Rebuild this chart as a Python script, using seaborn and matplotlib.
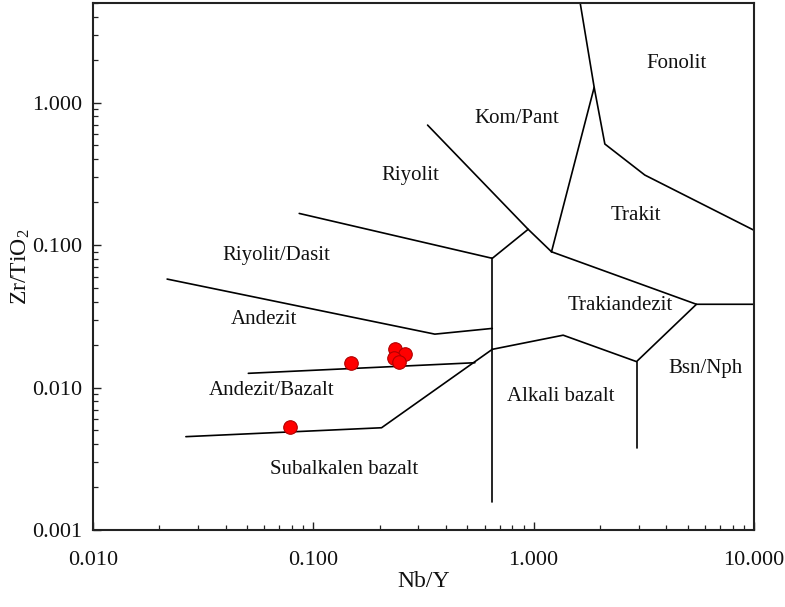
import matplotlib
import matplotlib.pyplot as plt
import matplotlib.ticker as mticker
import seaborn as sns

matplotlib.use("Agg")

# sample points (Nb/Y, Zr/TiO2)
sample_nb_y = [0.0784, 0.149, 0.236, 0.2605, 0.232, 0.2445]
sample_zr_ti = [0.00531, 0.01479, 0.01878, 0.01718, 0.01603, 0.0152]

# field boundaries
rhyodacite_andesite_x = [0.0217, 0.356, 0.649]
rhyodacite_andesite_y = [0.0577, 0.0237, 0.0260]

rhyolite_rhyodacite_x = [0.0863, 0.649, 0.944]
rhyolite_rhyodacite_y = [0.1667, 0.0807, 0.129]

rhyolite_comendite_x = [0.330, 0.944, 1.205]
rhyolite_comendite_y = [0.695, 0.129, 0.0897]

comendite_trachyte_x = [1.205, 1.882]
comendite_trachyte_y = [0.0897, 1.279]

phonolite_x = [1.626, 1.882, 2.104, 3.195, 10.0]
phonolite_y = [5.0, 1.279, 0.512, 0.310, 0.127]

trachyte_trachyandesite_x = [1.205, 5.48, 10.0]
trachyte_trachyandesite_y = [0.0897, 0.0384, 0.0384]

central_vertical_x = [0.649, 0.649]
central_vertical_y = [0.0807, 0.00157]

alkali_top_x = [0.649, 1.361, 2.93, 5.48]
alkali_top_y = [0.01854, 0.0233, 0.0152, 0.0384]

alkali_basanite_x = [2.93, 2.93]
alkali_basanite_y = [0.0152, 0.00374]

andesite_basalt_x = [0.0507, 0.541]
andesite_basalt_y = [0.01258, 0.01493]

subalkaline_top_x = [0.0264, 0.204, 0.649]
subalkaline_top_y = [0.00452, 0.00522, 0.01854]

field_names = ["Fonolit", "Kom/Pant", "Riyolit", "Trakit", "Riyolit/Dasit",
               "Andezit", "Trakiandezit", "Bsn/Nph", "Alkali bazalt",
               "Andezit/Bazalt", "Subalkalen bazalt"]
field_x = [4.46, 0.84, 0.276, 2.91, 0.0676, 0.0597, 2.46, 6.03, 1.33, 0.0647, 0.1377]
field_y = [1.89, 0.778, 0.31, 0.16, 0.0851, 0.0298, 0.0375, 0.0135, 0.00862, 0.0095, 0.00264]

x_ticks = [0.01, 0.1, 1, 10]
y_ticks = [0.001, 0.01, 0.1, 1]


def main() -> None:
    sns.set_style("white")
    plt.rcParams["font.family"] = ["Liberation Serif", "DejaVu Serif"]
    plt.rcParams["mathtext.default"] = "regular"

    fig, ax = plt.subplots(figsize=(7.85, 6.07), dpi=100)
    fig.subplots_adjust(left=93 / 785, right=754 / 785, bottom=77 / 607, top=604 / 607)
    ax.set_xscale("log")
    ax.set_yscale("log")

    boundaries = [
        (rhyodacite_andesite_x, rhyodacite_andesite_y),
        (rhyolite_rhyodacite_x, rhyolite_rhyodacite_y),
        (rhyolite_comendite_x, rhyolite_comendite_y),
        (comendite_trachyte_x, comendite_trachyte_y),
        (phonolite_x, phonolite_y),
        (trachyte_trachyandesite_x, trachyte_trachyandesite_y),
        (central_vertical_x, central_vertical_y),
        (alkali_top_x, alkali_top_y),
        (alkali_basanite_x, alkali_basanite_y),
        (andesite_basalt_x, andesite_basalt_y),
        (subalkaline_top_x, subalkaline_top_y),
    ]
    for bx, by in boundaries:
        sns.lineplot(x=bx, y=by, sort=False, estimator=None, color="black",
                     linewidth=1.2, ax=ax)

    sns.scatterplot(x=sample_nb_y, y=sample_zr_ti, s=95, color="#ff0000",
                    edgecolor="#b00000", linewidth=0.8, zorder=3, ax=ax)

    for name, tx, ty in zip(field_names, field_x, field_y):
        ax.text(tx, ty, name, fontsize=15, ha="center", va="center", color="#111111")

    ax.set_xlim(0.01, 10)
    ax.set_ylim(0.001, 5)
    ax.xaxis.set_major_locator(mticker.FixedLocator(x_ticks))
    ax.yaxis.set_major_locator(mticker.FixedLocator(y_ticks))
    ax.xaxis.set_major_formatter(mticker.FuncFormatter(lambda v, _: f"{v:.3f}"))
    ax.yaxis.set_major_formatter(mticker.FuncFormatter(lambda v, _: f"{v:.3f}"))
    ax.xaxis.set_minor_locator(mticker.LogLocator(base=10, subs=range(2, 10)))
    ax.yaxis.set_minor_locator(mticker.LogLocator(base=10, subs=range(2, 10)))
    ax.xaxis.set_minor_formatter(mticker.NullFormatter())
    ax.yaxis.set_minor_formatter(mticker.NullFormatter())

    ax.tick_params(which="both", direction="in", bottom=True, left=True,
                   top=False, right=False, color="#222222",
                   labelsize=16, labelcolor="#111111")
    ax.tick_params(which="major", length=6, width=1)
    ax.tick_params(which="minor", length=3.5, width=0.9)
    ax.tick_params(axis="x", which="major", pad=15)
    ax.tick_params(axis="y", which="major", pad=8)

    for spine in ax.spines.values():
        spine.set_linewidth(1.5)
        spine.set_color("#222222")

    ax.set_xlabel("Nb/Y", fontsize=17, color="#111111")
    ax.set_ylabel("Zr/TiO$_2$", fontsize=17, color="#111111")
    ax.xaxis.set_label_coords(0.5, -0.077)
    ax.yaxis.set_label_coords(-0.092, 0.5)

    fig.savefig("out.png", dpi=100)
    plt.close(fig)


if __name__ == "__main__":
    main()
